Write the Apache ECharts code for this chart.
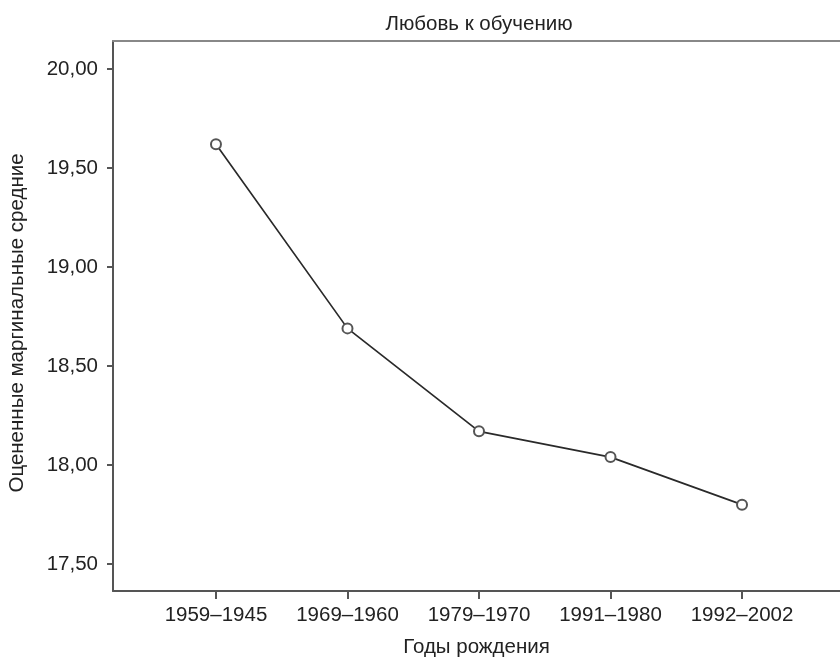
<!DOCTYPE html>
<html>
<head>
<meta charset="utf-8">
<script src="https://cdn.jsdelivr.net/npm/echarts@6/dist/echarts.min.js"></script>
<style>
html,body{margin:0;padding:0;background:#fff;}
#chart{width:840px;height:660px;}
</style>
</head>
<body>
<div id="chart"></div>
<script>
const title = 'Любовь к обучению';
const xName = 'Годы рождения';
const yName = 'Оцененные маргинальные средние';
const categories = ['1959–1945', '1969–1960', '1979–1970', '1991–1980', '1992–2002'];
const values = [19.62, 18.69, 18.17, 18.04, 17.80];
const yTicks = [17.5, 18.0, 18.5, 19.0, 19.5, 20.0];

const positions = categories.map((c, i) => i + 1);
const seriesData = values.map((v, i) => [positions[i], v]);
const FONT = '"Liberation Sans", Arial, sans-serif';
const FS = 20.5;

const chart = echarts.init(document.getElementById('chart'), null, {renderer: 'canvas'});
chart.setOption({
  animation: false,
  backgroundColor: '#ffffff',
  title: {
    text: title,
    left: 474,
    textAlign: 'center',
    top: 9,
    textStyle: {fontFamily: FONT, fontSize: FS, fontWeight: 'normal', color: '#222'}
  },
  grid: {left: 113, right: 0, top: 41, bottom: 69, containLabel: false, outerBoundsMode: 'none'},
  xAxis: [{
    type: 'value',
    min: 0.217,
    max: 5.745,
    name: xName,
    nameLocation: 'middle',
    nameGap: 46,
    nameTextStyle: {fontFamily: FONT, fontSize: FS, color: '#222'},
    axisLine: {show: true, onZero: false, lineStyle: {color: '#555', width: 2}},
    axisTick: {show: true, customValues: positions, length: 8, lineStyle: {color: '#555', width: 2}},
    axisLabel: {
      customValues: positions,
      margin: 14,
      fontFamily: FONT, fontSize: FS, color: '#222',
      formatter: v => categories[Math.round(v) - 1] || ''
    },
    splitLine: {show: false}
  }, {
    type: 'value',
    position: 'top',
    min: 0.217,
    max: 5.745,
    axisLine: {show: true, onZero: false, lineStyle: {color: '#888', width: 2}},
    axisTick: {show: false},
    axisLabel: {show: false},
    splitLine: {show: false}
  }],
  yAxis: {
    type: 'value',
    min: 17.364,
    max: 20.141,
    name: yName,
    nameLocation: 'middle',
    nameGap: 85,
    nameRotate: 90,
    nameTextStyle: {fontFamily: FONT, fontSize: FS, color: '#222', padding: [0, 14, 0, 0]},
    axisLine: {show: true, onZero: false, lineStyle: {color: '#555', width: 2}},
    axisTick: {show: true, customValues: yTicks, length: 6, lineStyle: {color: '#555', width: 2}},
    axisLabel: {
      customValues: yTicks,
      margin: 15,
      fontFamily: FONT, fontSize: FS, color: '#222',
      formatter: v => v.toFixed(2).replace('.', ',')
    },
    splitLine: {show: false}
  },
  series: [{
    type: 'line',
    data: seriesData,
    symbol: 'emptyCircle',
    symbolSize: 10,
    lineStyle: {color: '#2a2a2a', width: 1.7},
    itemStyle: {color: '#555', borderColor: '#555', borderWidth: 1.5},
    z: 3
  }]
});
</script>
</body>
</html>
